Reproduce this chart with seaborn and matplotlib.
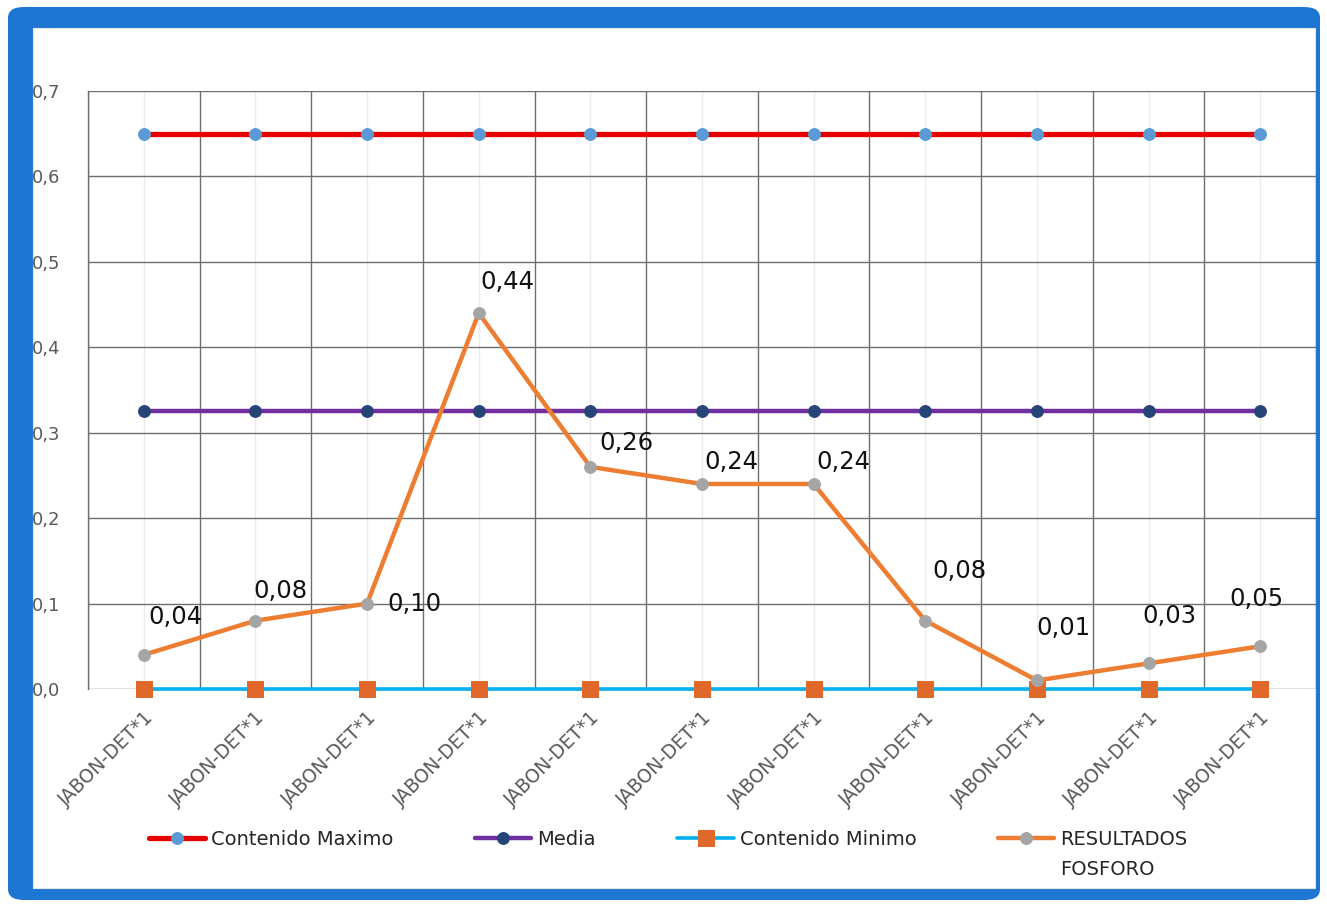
import numpy as np
import pandas as pd
import seaborn as sns
import matplotlib.pyplot as plt
from matplotlib.patches import FancyBboxPatch, Rectangle
from matplotlib.ticker import FuncFormatter, FixedLocator

categories = ['JABON-DET*1'] * 11
maximo = [0.65] * 11
media = [0.325] * 11
minimo = [0.0] * 11
fosforo = [0.04, 0.08, 0.10, 0.44, 0.26, 0.24, 0.24, 0.08, 0.01, 0.03, 0.05]
label_offsets = [(32, 38), (25, 30), (47, 0), (29, 31), (36, 24), (29, 22),
                 (30, 22), (34, 50), (27, 52), (21, 47), (-4, 47)]

sns.set_style('white')
plt.rcParams['font.family'] = ['DejaVu Sans']

W, H = 1327, 907
fig = plt.figure(figsize=(W / 100, H / 100), dpi=100)
fig.patch.set_facecolor('white')

# blue frame behind everything
fig.patches.append(FancyBboxPatch((8 / W, 7 / H), 1312 / W, 893 / H,
                                  boxstyle='round,pad=0,rounding_size=0.012',
                                  transform=fig.transFigure, facecolor='#1E76D3',
                                  edgecolor='none', zorder=-2))
fig.patches.append(Rectangle((33 / W, 19 / H), 1282 / W, 860 / H,
                             transform=fig.transFigure, facecolor='white',
                             edgecolor='#E6E6E6', lw=0.8, zorder=-1))

ax = fig.add_axes([88 / W, 1 - 689 / H, 1228 / W, 598 / H])
ax.set_facecolor('none')

pos = np.arange(len(categories))
df = pd.DataFrame({'pos': pos, 'maximo': maximo, 'media': media,
                   'minimo': minimo, 'fosforo': fosforo})

series = [
    ('maximo', 'Contenido Maximo', '#E60000', 3.8, 'o', '#5B9BD5', 8.5),
    ('media', 'Media', '#7030A0', 3.2, 'o', '#264478', 8.5),
    ('minimo', 'Contenido Minimo', '#00B0F0', 2.6, 's', '#E0682B', 12),
    ('fosforo', 'RESULTADOS', '#ED7D31', 3.2, 'o', '#A5A5A5', 8.5),
]
for col, name, color, lw, mk, mc, ms in series:
    sns.lineplot(data=df, x='pos', y=col, ax=ax, color=color, lw=lw,
                 marker=mk, markerfacecolor=mc, markeredgecolor=mc,
                 markersize=ms, label=name, zorder=3, clip_on=False)

for x, y, (dx, dy) in zip(pos, fosforo, label_offsets):
    ax.annotate('{:.2f}'.format(y).replace('.', ','), (x, y),
                xytext=(dx, dy), textcoords='offset pixels',
                ha='center', va='center', fontsize=17.5, color='#111111',
                zorder=5)

ax.set_xlim(-0.5, len(categories) - 0.5)
ax.set_ylim(0, 0.7)
ax.yaxis.set_major_locator(FixedLocator(np.arange(0, 0.71, 0.1)))
ax.yaxis.set_major_formatter(FuncFormatter(lambda v, p: '{:.1f}'.format(v).replace('.', ',')))
ax.set_xticks(pos)
ax.set_xticklabels(categories, rotation=45, ha='right', rotation_mode='anchor',
                   fontsize=13.5, color='#595959')
ax.set_xticks(np.arange(-0.5, len(categories), 1), minor=True)
ax.tick_params(axis='y', labelsize=13, labelcolor='#595959', length=0, pad=20)
ax.tick_params(axis='x', which='major', length=0, pad=14)
ax.tick_params(axis='x', which='minor', length=5, color='#E0E0E0')

ax.grid(axis='y', color='#6E6E6E', lw=1.0)
ax.grid(axis='x', which='minor', color='#6E6E6E', lw=1.0)
ax.grid(axis='x', which='major', color='#EBEBEB', lw=1.0)
ax.set_axisbelow(True)
for s in ['top', 'right', 'bottom']:
    ax.spines[s].set_visible(False)
ax.spines['left'].set_color('#6E6E6E')
ax.spines['left'].set_linewidth(1.0)
ax.set_xlabel('')
ax.set_ylabel('')

leg = ax.legend(loc='upper left', bbox_to_anchor=(141 / W, 1 - 822 / H),
                bbox_transform=fig.transFigure, ncol=4, frameon=False,
                fontsize=14, handlelength=2.9, handletextpad=0.3,
                columnspacing=4.2, labelcolor='#262626', borderaxespad=0)

# second line of the last legend entry, as Excel wraps it
fig.canvas.draw()
bb = leg.get_texts()[3].get_window_extent()
fig.text(bb.x0 / W, (bb.y0 - 30) / H, 'FOSFORO', fontsize=14,
         color='#262626', ha='left', va='bottom')

fig.savefig('out.png', dpi=100, facecolor=fig.get_facecolor())
